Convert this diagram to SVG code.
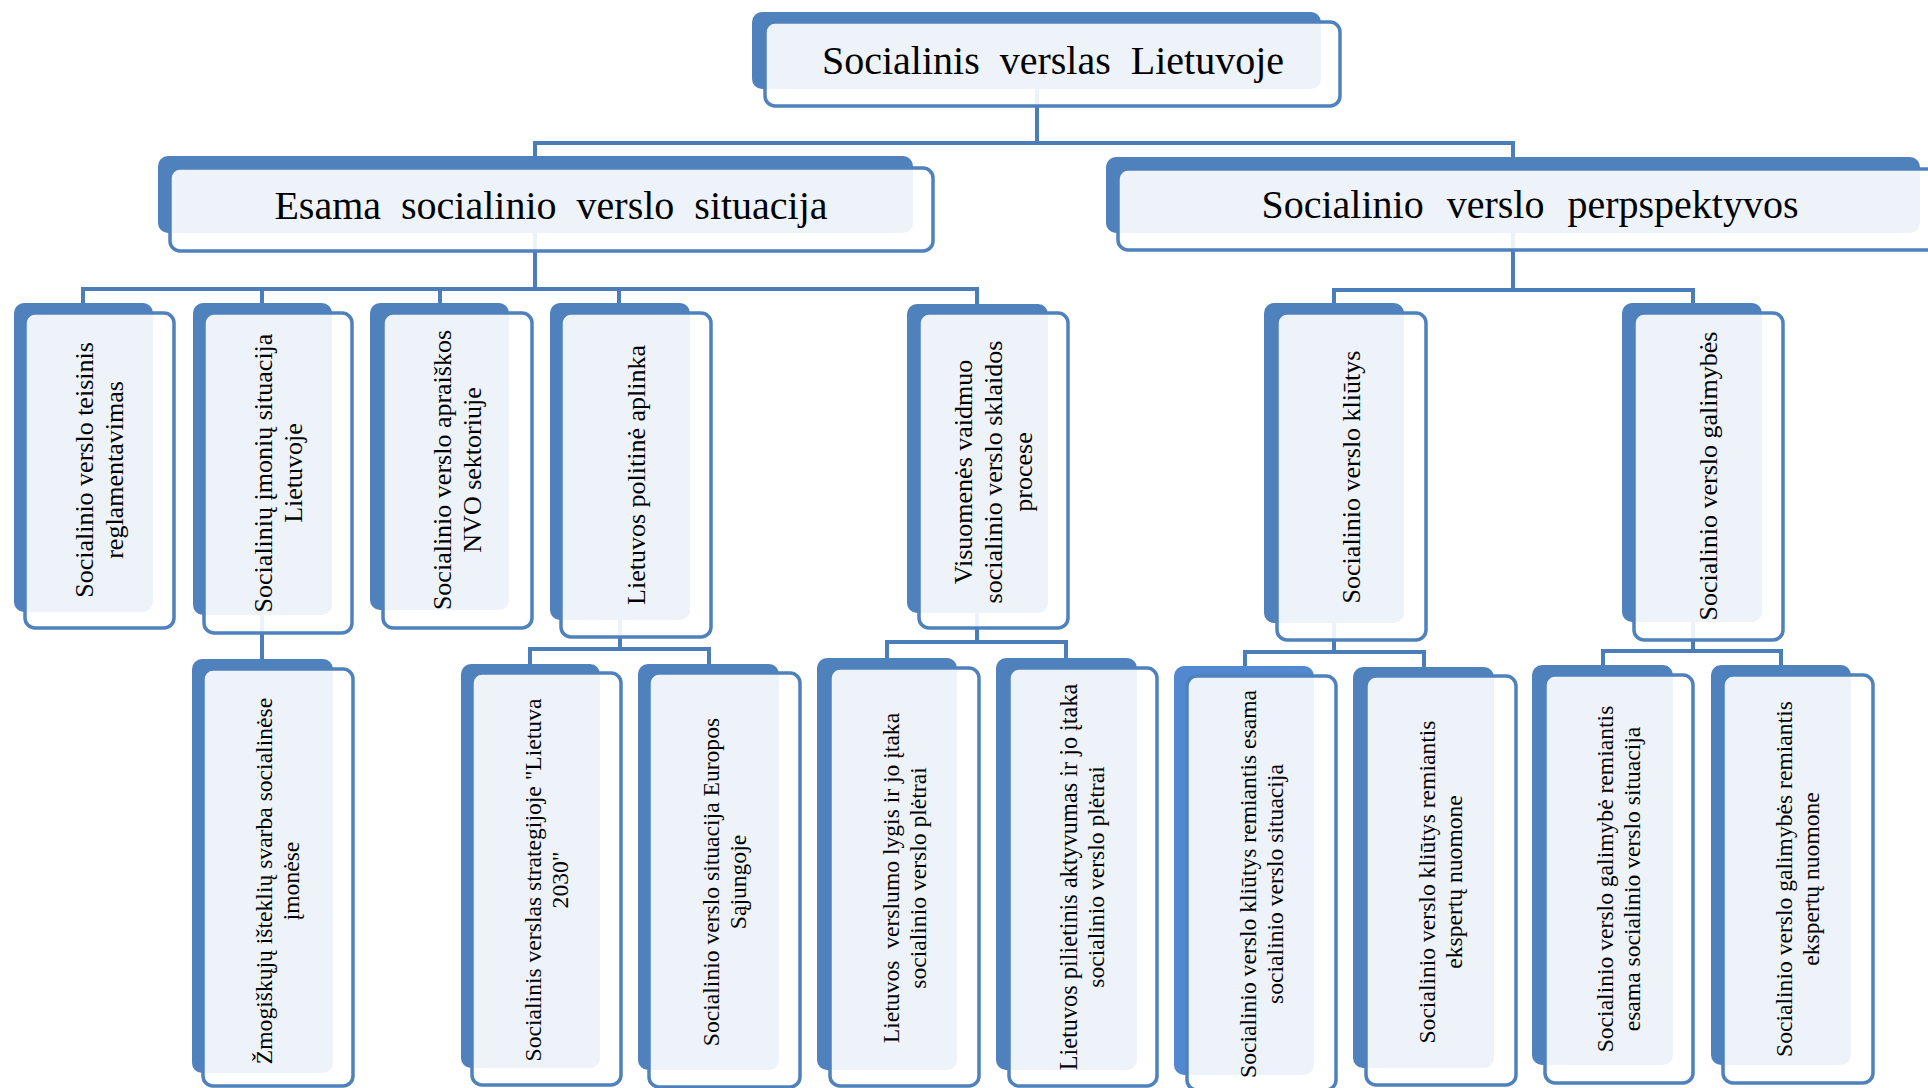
<svg xmlns="http://www.w3.org/2000/svg" width="1928" height="1088" viewBox="0 0 1928 1088">
<style>
.back{fill:#4F81BD}
.front{fill:#FFFFFF;fill-opacity:0.9;stroke:#4F81BD;stroke-width:3.5}
.conn{fill:none;stroke:#4A7DBA;stroke-width:4}
.t{font-family:"Liberation Serif","Times New Roman",serif;fill:#000000}
.h{font-size:40px;word-spacing:10px}
.t3{font-size:26px}
.t4{font-size:23.6px}
</style>
<rect width="1928" height="1088" fill="#FFFFFF"/>
<g id="connectors" class="conn">
<path d="M1037 60 V143"/>
<path d="M535 170 V143 H1513 V170"/>
<path d="M535 200 V289"/>
<path d="M83 312 V289 H977 V312"/>
<path d="M262 289 V312 M440 289 V312 M619 289 V312"/>
<path d="M1513 200 V290"/>
<path d="M1334 312 V290 H1693 V312"/>
<path d="M262 600 V668"/>
<path d="M620 600 V649"/>
<path d="M530 672 V649 H709 V672"/>
<path d="M977 600 V642"/>
<path d="M887 666 V642 H1066 V666"/>
<path d="M1334 600 V652"/>
<path d="M1245 674 V652 H1424 V674"/>
<path d="M1693 600 V651"/>
<path d="M1603 674 V651 H1781 V674"/>
</g>
<g id="root">
<rect class="back" x="752" y="12" width="569" height="77" rx="10"/>
<rect class="front" x="765" y="22" width="575" height="84" rx="10"/>
<text class="t h" x="1053" y="74" text-anchor="middle">Socialinis verslas Lietuvoje</text>
</g>
<g id="esama">
<rect class="back" x="158" y="156" width="755" height="77" rx="10"/>
<rect class="front" x="170" y="168" width="763" height="83" rx="10"/>
<text class="t h" x="551" y="219" text-anchor="middle">Esama socialinio verslo situacija</text>
</g>
<g id="perspektyvos">
<rect class="back" x="1106" y="157" width="814" height="76" rx="10"/>
<rect class="front" x="1118" y="169" width="820" height="81" rx="10"/>
<text class="t h" x="1530" y="218" text-anchor="middle" style="word-spacing:13px">Socialinio verslo perpspektyvos</text>
</g>
<g id="n1">
<rect class="back" x="14" y="303" width="139" height="309" rx="10"/>
<rect class="front" x="25" y="313" width="149" height="315" rx="10"/>
<text class="t t3" transform="translate(99.5 470) rotate(-90)" text-anchor="middle"><tspan x="0" y="-6.4">Socialinio verslo teisinis</tspan><tspan x="0" y="23.6">reglamentavimas</tspan></text>
</g>
<g id="n2">
<rect class="back" x="193" y="303" width="139" height="312" rx="10"/>
<rect class="front" x="204" y="313" width="148" height="320" rx="10"/>
<text class="t t3" transform="translate(278 473) rotate(-90)" text-anchor="middle"><tspan x="0" y="-6.4">Socialinių įmonių situacija</tspan><tspan x="0" y="23.6">Lietuvoje</tspan></text>
</g>
<g id="n3">
<rect class="back" x="370" y="303" width="139" height="307" rx="10"/>
<rect class="front" x="383" y="313" width="149" height="315" rx="10"/>
<text class="t t3" transform="translate(457.5 470) rotate(-90)" text-anchor="middle"><tspan x="0" y="-6.4">Socialinio verslo apraiškos</tspan><tspan x="0" y="23.6">NVO sektoriuje</tspan></text>
</g>
<g id="n4">
<rect class="back" x="550" y="303" width="140" height="317" rx="10"/>
<rect class="front" x="561" y="313" width="150" height="324" rx="10"/>
<text class="t t3" transform="translate(636 475) rotate(-90)" text-anchor="middle"><tspan x="0" y="8.6">Lietuvos politinė aplinka</tspan></text>
</g>
<g id="n5">
<rect class="back" x="907" y="304" width="141" height="309" rx="10"/>
<rect class="front" x="919" y="313" width="149" height="315" rx="10"/>
<text class="t t3" transform="translate(993.5 472) rotate(-90)" text-anchor="middle"><tspan x="0" y="-21.4">Visuomenės vaidmuo</tspan><tspan x="0" y="8.6">socialinio verslo sklaidos</tspan><tspan x="0" y="38.6">procese</tspan></text>
</g>
<g id="n6">
<rect class="back" x="1264" y="303" width="140" height="320" rx="10"/>
<rect class="front" x="1277" y="313" width="149" height="327" rx="10"/>
<text class="t t3" transform="translate(1351.5 477) rotate(-90)" text-anchor="middle"><tspan x="0" y="8.6">Socialinio verslo kliūtys</tspan></text>
</g>
<g id="n7">
<rect class="back" x="1622" y="303" width="140" height="319" rx="10"/>
<rect class="front" x="1634" y="313" width="149" height="327" rx="10"/>
<text class="t t3" transform="translate(1708.5 476) rotate(-90)" text-anchor="middle"><tspan x="0" y="8.6">Socialinio verslo galimybės</tspan></text>
</g>
<g id="m1">
<rect class="back" x="192" y="659" width="141" height="414" rx="10"/>
<rect class="front" x="203" y="669" width="150" height="417" rx="10"/>
<text class="t t4" transform="translate(278 881) rotate(-90)" text-anchor="middle"><tspan x="0" y="-5.7">Žmogiškųjų išteklių svarba socialinėse</tspan><tspan x="0" y="21.3">įmonėse</tspan></text>
</g>
<g id="m2">
<rect class="back" x="461" y="664" width="139" height="404" rx="10"/>
<rect class="front" x="472" y="673" width="149" height="412" rx="10"/>
<text class="t t4" transform="translate(546.5 880) rotate(-90)" text-anchor="middle"><tspan x="0" y="-5.7">Socialinis verslas strategijoje "Lietuva</tspan><tspan x="0" y="21.3">2030"</tspan></text>
</g>
<g id="m3">
<rect class="back" x="638" y="664" width="141" height="406" rx="10"/>
<rect class="front" x="649" y="673" width="151" height="414" rx="10"/>
<text class="t t4" transform="translate(724.5 882) rotate(-90)" text-anchor="middle"><tspan x="0" y="-5.7">Socialinio verslo situacija Europos</tspan><tspan x="0" y="21.3">Sąjungoje</tspan></text>
</g>
<g id="m4">
<rect class="back" x="817" y="658" width="140" height="412" rx="10"/>
<rect class="front" x="830" y="668" width="149" height="418" rx="10"/>
<text class="t t4" transform="translate(904.5 878) rotate(-90)" text-anchor="middle" style="white-space:pre"><tspan x="0" y="-5.7">Lietuvos  verslumo lygis ir jo įtaka</tspan><tspan x="0" y="21.3">socialinio verslo plėtrai</tspan></text>
</g>
<g id="m5">
<rect class="back" x="996" y="658" width="141" height="412" rx="10"/>
<rect class="front" x="1009" y="668" width="148" height="418" rx="10"/>
<text class="t t4" transform="translate(1083 877) rotate(-90)" text-anchor="middle"><tspan x="0" y="-5.7" style="font-size:24.3px">Lietuvos pilietinis aktyvumas ir jo įtaka</tspan><tspan x="0" y="21.3">socialinio verslo plėtrai</tspan></text>
</g>
<g id="m6">
<rect class="back" x="1174" y="666" width="140" height="409" rx="10" style="fill:#5288CF"/>
<rect class="front" x="1187" y="676" width="149" height="414" rx="10"/>
<text class="t t4" transform="translate(1261.5 884) rotate(-90)" text-anchor="middle"><tspan x="0" y="-5.7">Socialinio verslo kliūtys remiantis esama</tspan><tspan x="0" y="21.3">socialinio verslo situacija</tspan></text>
</g>
<g id="m7">
<rect class="back" x="1353" y="667" width="141" height="401" rx="10"/>
<rect class="front" x="1366" y="676" width="150" height="409" rx="10"/>
<text class="t t4" transform="translate(1441 882) rotate(-90)" text-anchor="middle"><tspan x="0" y="-5.7">Socialinio verslo kliūtys remiantis</tspan><tspan x="0" y="21.3">ekspertų nuomone</tspan></text>
</g>
<g id="m8">
<rect class="back" x="1532" y="665" width="141" height="400" rx="10"/>
<rect class="front" x="1545" y="675" width="148" height="408" rx="10"/>
<text class="t t4" transform="translate(1619 879) rotate(-90)" text-anchor="middle"><tspan x="0" y="-5.7">Socialinio verslo galimybė remiantis</tspan><tspan x="0" y="21.3">esama socialinio verslo situacija</tspan></text>
</g>
<g id="m9">
<rect class="back" x="1711" y="665" width="140" height="400" rx="10"/>
<rect class="front" x="1723" y="675" width="150" height="408" rx="10"/>
<text class="t t4" transform="translate(1798 879) rotate(-90)" text-anchor="middle"><tspan x="0" y="-5.7">Socialinio verslo galimybės remiantis</tspan><tspan x="0" y="21.3">ekspertų nuomone</tspan></text>
</g>
</svg>
